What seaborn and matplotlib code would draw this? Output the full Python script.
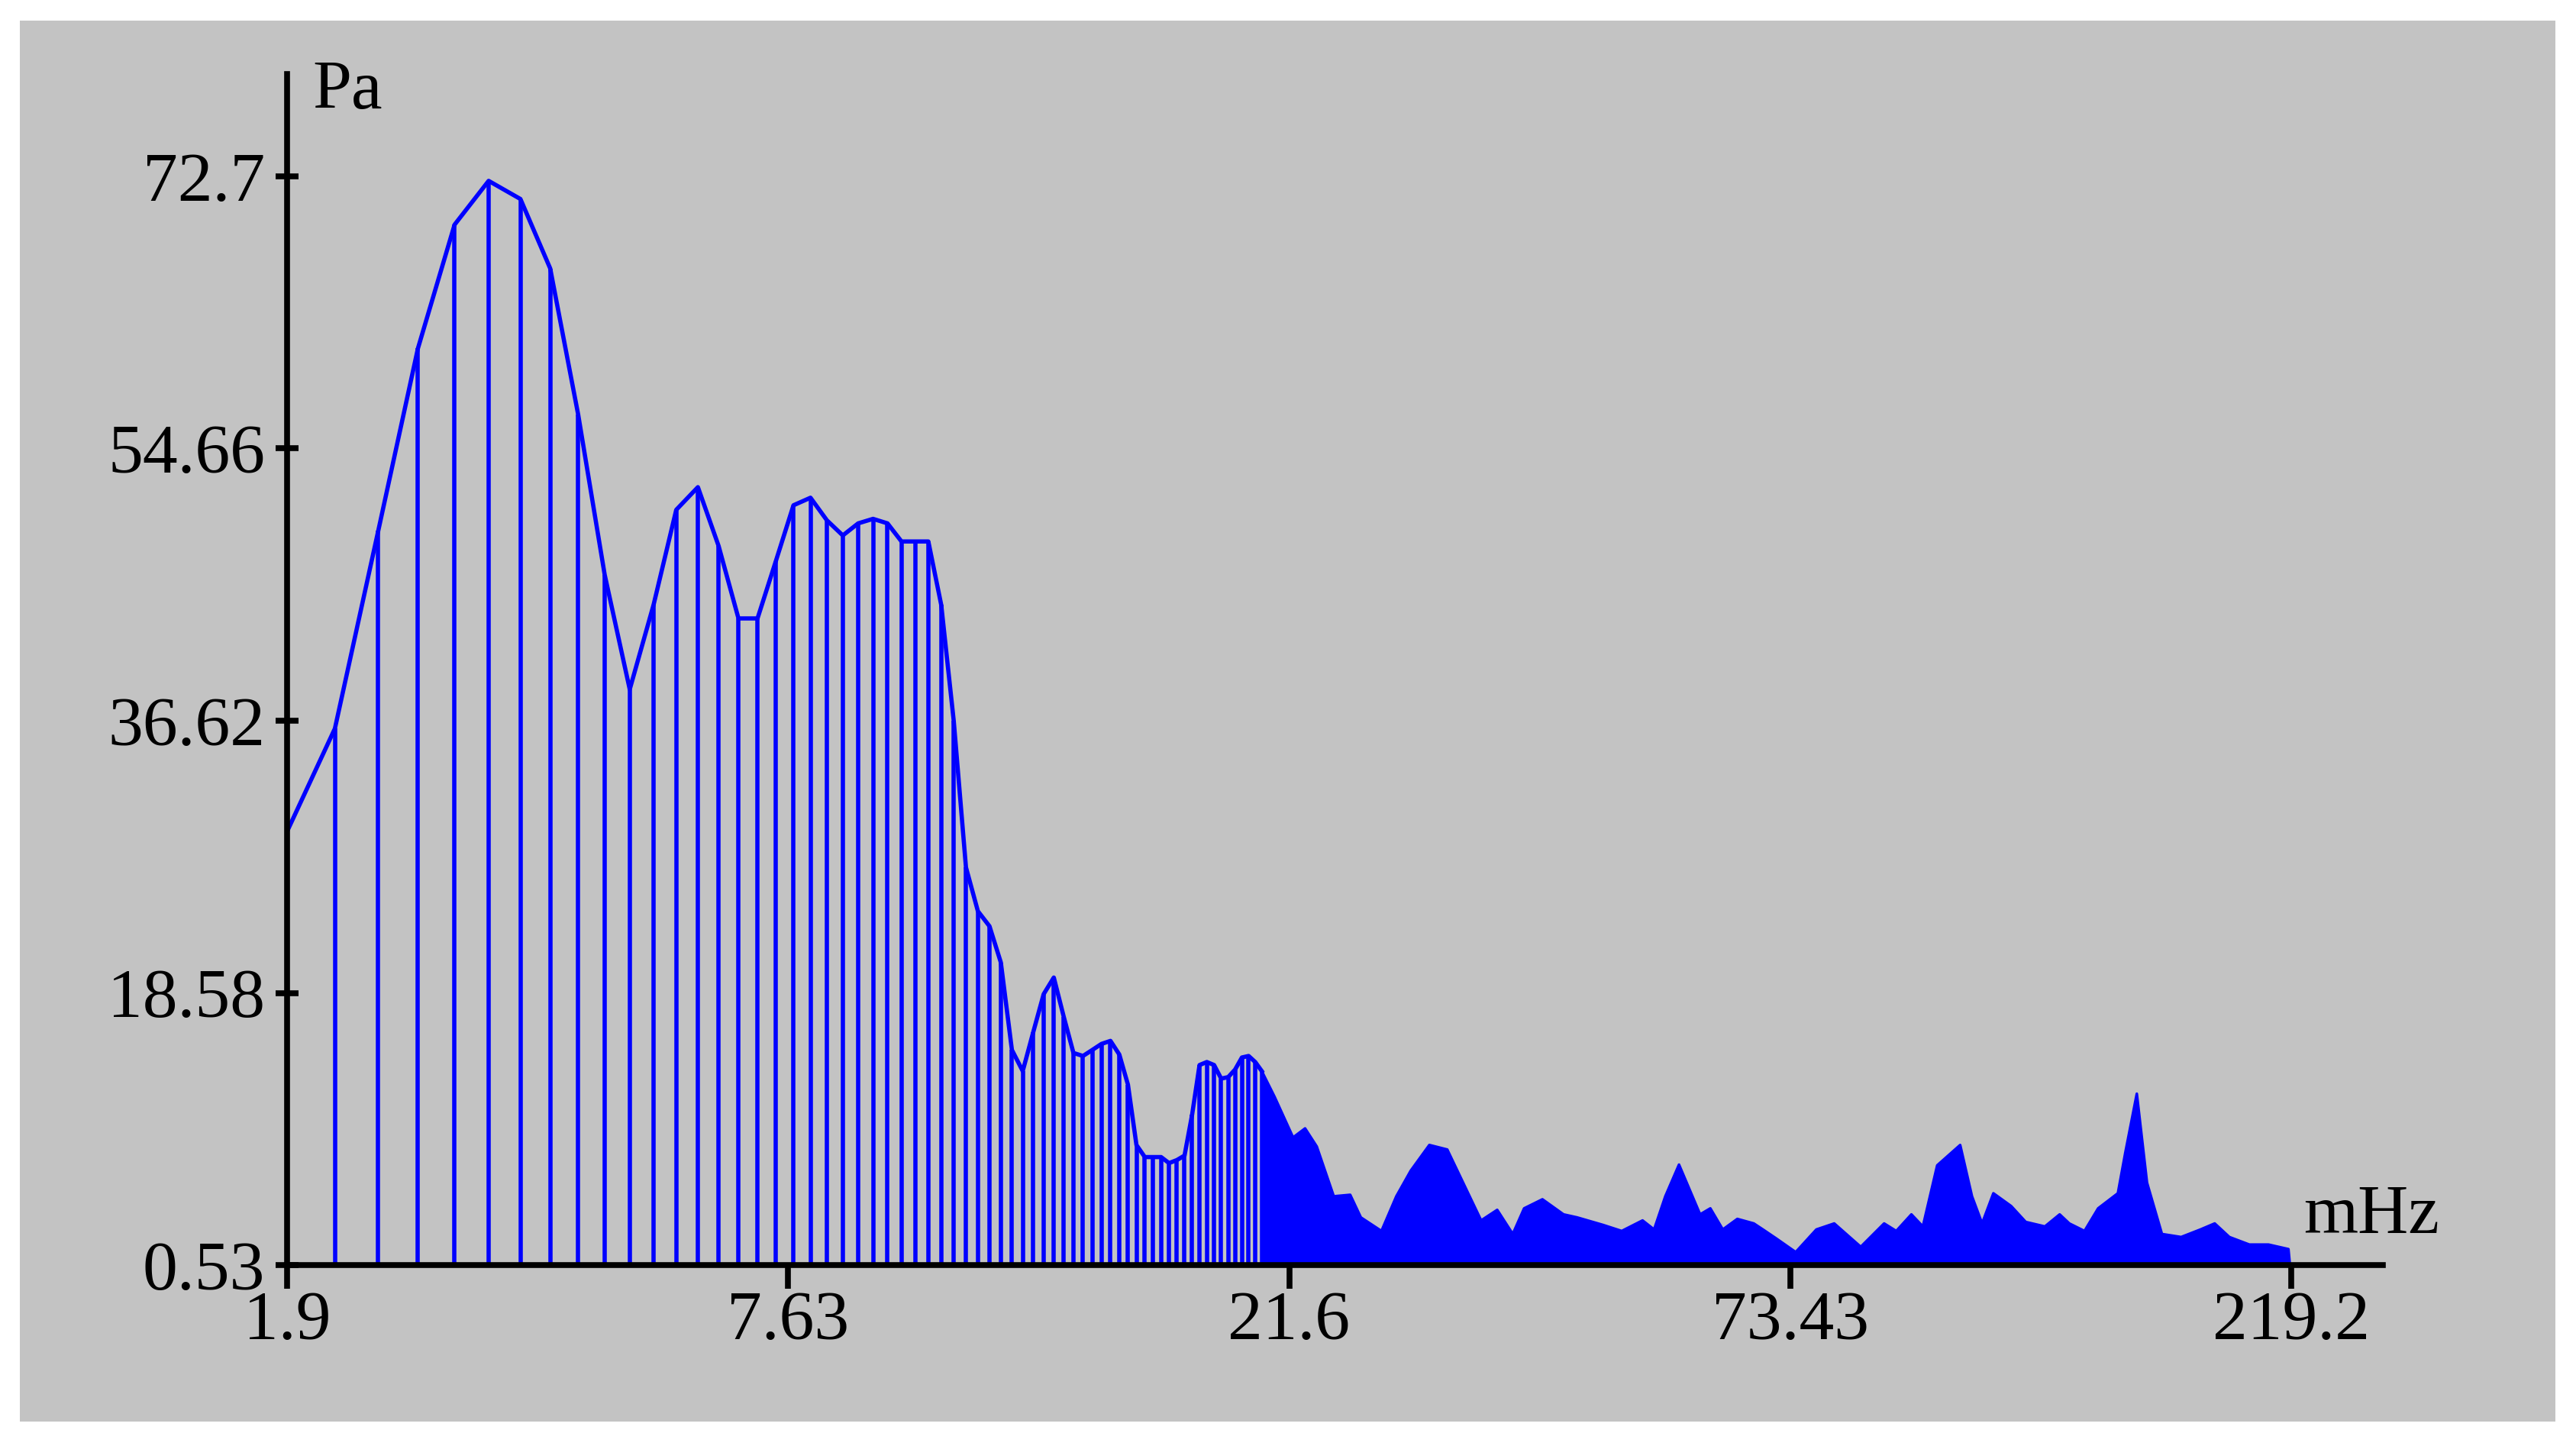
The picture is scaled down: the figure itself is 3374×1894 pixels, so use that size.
import numpy as np
import pandas as pd
import matplotlib
matplotlib.use("Agg")
import matplotlib.pyplot as plt
import seaborn as sns

# spectrum bins: f = 1.9 + 0.2 * k (mHz), values in Pa
f0 = 1.9
df = 0.2

# sparse part, one stem per bin (k = 0..64)
stem_vals = [29.3, 36.1, 49.2, 61.3, 69.5, 72.4, 71.2, 66.6, 56.9, 46.3,
             38.7, 44.3, 50.6, 52.1, 48.2, 43.4, 43.4, 47.2, 50.9, 51.4,
             49.9, 48.9, 49.7, 50.0, 49.7, 48.5, 48.5, 48.5, 44.3, 36.6,
             26.9, 24.0, 23.0, 20.6, 14.8, 13.4, 16.0, 18.5, 19.6, 17.0,
             14.6, 14.4, 14.8, 15.2, 15.4, 14.5, 12.5, 8.5, 7.7, 7.7,
             7.7, 7.3, 7.5, 7.8, 10.5, 13.8, 14.0, 13.8, 12.9, 13.0,
             13.5, 14.3, 14.4, 14.0, 13.4]

# dense part (bin index, value)
dense_k = [64, 66, 69, 71, 73, 76, 79, 81, 85, 88, 91, 95, 99, 102, 107, 111,
           115, 118, 123, 129, 133, 141, 147, 154, 158, 162, 167, 175, 179,
           184, 190, 197, 201, 207, 216, 226, 235, 249, 262, 269, 278, 285,
           294, 309, 317, 324, 332, 345, 356, 371, 383, 391, 404, 416, 434,
           441, 452, 462, 477, 497, 518, 534, 551, 575, 599, 625, 627]
dense_vals = [13.4, 11.7, 9.0, 9.6, 8.4, 5.1, 5.2, 3.7, 2.8, 5.1, 6.8, 8.5,
              8.2, 6.4, 3.5, 4.2, 2.6, 4.3, 4.9, 3.9, 3.7, 3.2, 2.8, 3.5, 2.9,
              5.1, 7.2, 3.9, 4.3, 2.9, 3.6, 3.3, 2.9, 2.3, 1.4, 2.9, 3.3, 1.75,
              3.3, 2.8, 3.9, 3.1, 7.15, 8.5, 5.1, 3.3, 5.3, 4.45, 3.4, 3.1, 3.9,
              3.3, 2.8, 4.3, 5.3, 8.0, 11.9, 6.0, 2.6, 2.4, 2.9, 3.3, 2.4, 1.9,
              1.9, 1.6, 0.53]

y_ticks = [0.53, 18.58, 36.62, 54.66, 72.7]
x_labels = ["1.9", "7.63", "21.6", "73.43", "219.2"]

stems = pd.DataFrame({"f": f0 + df * np.arange(len(stem_vals)), "p": stem_vals})
dense = pd.DataFrame({"f": f0 + df * np.array(dense_k), "p": dense_vals})

blue = "#0000ff"
grey = "#c3c3c3"

plt.rcParams["font.family"] = ["Liberation Serif", "DejaVu Serif"]

fig = plt.figure(figsize=(33.74, 18.94), dpi=100, facecolor="white")
fig.patches.append(plt.Rectangle((0.0077, 0.017), 0.9843, 0.969, transform=fig.transFigure,
                                 facecolor=grey, edgecolor="none", zorder=-1))
ax = fig.add_axes([0.1115, 0.125, 0.8135, 0.824])
ax.set_facecolor("none")

ax.set_xscale("log")
ax.set_xlim(1.9, 154.7)
ax.set_ylim(0.53, 79.5)

ax.vlines(stems["f"], 0.53, stems["p"], color=blue, lw=4)
sns.lineplot(data=stems, x="f", y="p", color=blue, lw=4, ax=ax)
ax.fill_between(dense["f"], 0.53, dense["p"], color=blue, lw=0)
sns.lineplot(data=dense, x="f", y="p", color=blue, lw=2.5, ax=ax)

for s in ["top", "right"]:
    ax.spines[s].set_visible(False)
for s in ["left", "bottom"]:
    ax.spines[s].set_linewidth(5.5)
    ax.spines[s].set_color("black")

ax.set_yticks(y_ticks)
ax.set_yticklabels([f"{v:g}" for v in y_ticks])
ax.set_xticks(np.geomspace(1.9, 127.6, 5))
ax.set_xticklabels(x_labels)
ax.xaxis.set_minor_locator(matplotlib.ticker.NullLocator())
ax.tick_params(axis="both", direction="inout", length=22, width=5.5, labelsize=66,
               colors="black")
ax.tick_params(axis="x", direction="out", pad=2)
ax.tick_params(axis="y", pad=10)
ax.set_xlabel("")
ax.set_ylabel("")
ax.text(0.012, 0.985, "Pa", transform=ax.transAxes, fontsize=66, va="center", ha="left")
ax.text(0.962, 0.015, "mHz", transform=ax.transAxes, fontsize=66, va="bottom", ha="left")

fig.savefig("out.png", dpi=100, facecolor="white")
